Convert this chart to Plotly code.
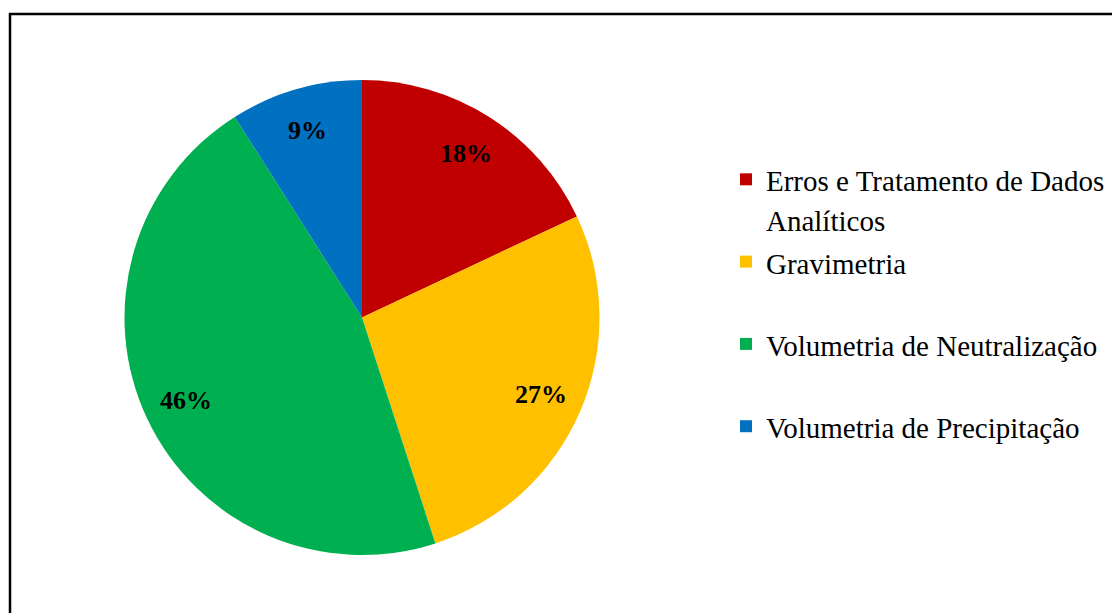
import math
import plotly.graph_objects as go

labels = ["Erros e Tratamento de Dados<br>Analíticos", "Gravimetria", "Volumetria de Neutralização", "Volumetria de Precipitação"]
values = [18, 27, 46, 9]
colors = ["#C00000", "#FFC000", "#00B050", "#0070C0"]

FONT = "Liberation Serif, Times New Roman, serif"
W, H = 1120, 613
# pie domain in pixels (left, right, top, bottom)
PL, PR, PT, PB = 116, 592, 72, 547
LABEL_R = 0.82

# pad single-line labels to two lines so legend rows are evenly spaced
legend_labels = []
for lab in labels:
    txt = lab if "<br>" in lab else lab + "<br>&nbsp;"
    legend_labels.append("<span style='font-size:29px'>" + txt.replace("<br>", "</span><br><span style='font-size:29px'>") + "</span>")

fig = go.Figure(go.Pie(
    labels=legend_labels,
    values=values,
    sort=False,
    direction="clockwise",
    rotation=0,
    marker=dict(colors=colors, line=dict(color="rgba(0,0,0,0)", width=0)),
    textinfo="none",
    domain=dict(x=[PL / W, PR / W], y=[1 - PB / H, 1 - PT / H]),
    hoverinfo="label+percent",
))

# percentage labels placed at the slice mid-angles
total = sum(values)
cx, cy = (PL + PR) / 2, (PT + PB) / 2
R = min(PR - PL, PB - PT) / 2
annotations = []
cum = 0
for v in values:
    mid = 90 - (cum + v / 2) / total * 360
    cum += v
    px = cx + LABEL_R * R * math.cos(math.radians(mid))
    py = cy - LABEL_R * R * math.sin(math.radians(mid))
    annotations.append(dict(
        x=px / W, y=1 - py / H, xref="paper", yref="paper",
        text="<b>%d%%</b>" % round(v / total * 100), showarrow=False,
        font=dict(family=FONT, size=26, color="black"),
        xanchor="center", yanchor="middle",
    ))

fig.update_layout(
    width=W, height=H,
    margin=dict(l=0, r=0, t=0, b=0),
    paper_bgcolor="white",
    showlegend=True,
    legend=dict(
        x=718 / W, y=1 - 145 / H, xanchor="left", yanchor="top",
        font=dict(family=FONT, size=30.5, color="black"),
        valign="top",
        bgcolor="rgba(0,0,0,0)",
    ),
    annotations=annotations,
    shapes=[dict(type="rect", xref="paper", yref="paper",
                 x0=2 / W, x1=1.05, y0=-0.05, y1=1 - 6 / H,
                 line=dict(color="black", width=2.5), fillcolor="rgba(0,0,0,0)")],
)

fig.write_html("out.html")
